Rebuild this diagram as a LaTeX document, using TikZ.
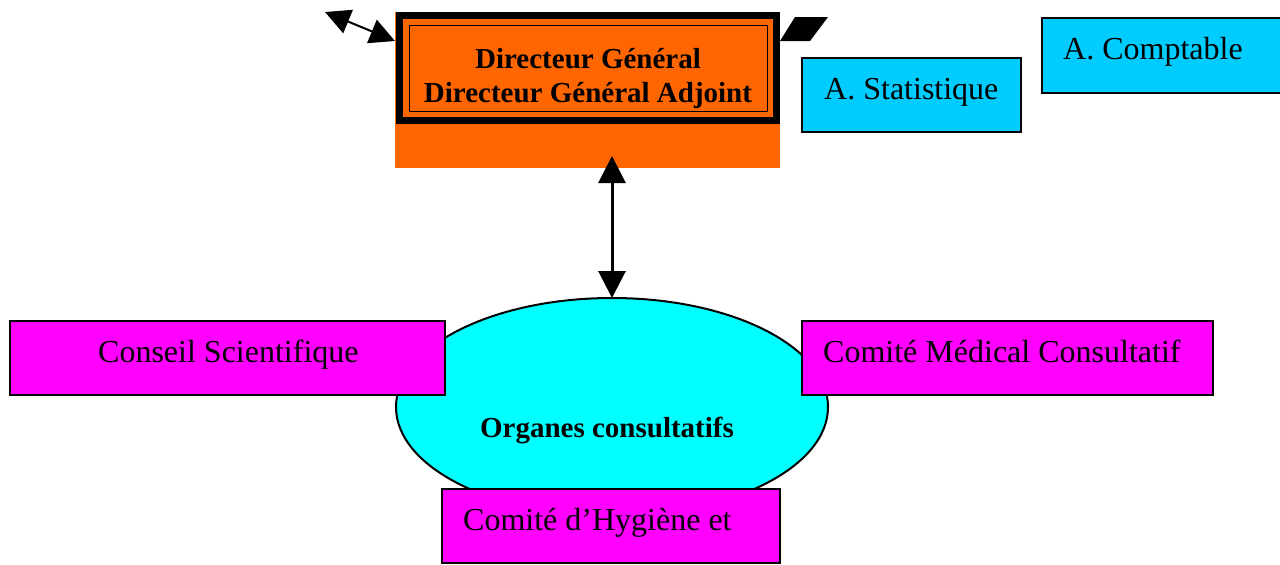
\documentclass[tikz,border=0pt]{standalone}
\usepackage{fontspec}
\setmainfont{Liberation Serif}
\usetikzlibrary{arrows.meta, positioning, shapes.geometric}
\definecolor{OrangeDG}{RGB}{255,102,0}
\definecolor{BleuCiel}{RGB}{0,204,255}
\definecolor{CyanOrg}{RGB}{0,255,255}
\definecolor{MagentaCom}{RGB}{255,0,255}
\tikzset{
  boite/.style={rectangle, draw=black, line width=2pt, inner sep=0pt, outer sep=0pt, anchor=north west},
  texte/.style={font=\fontsize{32}{36}\selectfont, inner sep=0pt, anchor=base west},
  gras/.style={font=\bfseries\fontsize{29}{34}\selectfont, inner sep=0pt, anchor=base},
  fleche/.style={{Triangle[length=27pt,width=27pt]}-{Triangle[length=27pt,width=27pt]}, line width=3pt},
  flecheG/.style={{Triangle[length=25pt,width=25pt]}-{Triangle[length=25pt,width=25pt]}, line width=2pt},
}

\begin{document}
\begin{tikzpicture}[x=1pt, y=-1pt]
    \useasboundingbox (0,0) rectangle (1280,565);

    % Direction Generale
    \node[rectangle, fill=OrangeDG, minimum width=385pt, minimum height=156pt, inner sep=0pt, outer sep=0pt, anchor=north west] (dg) at (395,12) {};
    \draw[line width=7pt] (399.5,15.5) rectangle (776.5,120.5);
    \draw[line width=1pt] (409,25) rectangle (767,111);
    \node[gras] (dgT1) at (588,68) {Directeur Général};
    \node[gras] (dgT2) at (588,102) {Directeur Général Adjoint};

    % Fleches du haut
    \coordinate (gauche) at (325,12);
    \draw[flecheG] (gauche) -- ([yshift=-29pt]dg.north west);
    \fill (780,41) -- (810,41) -- (828,17) -- (795,17) -- cycle;

    % Assistants
    \node[boite, fill=BleuCiel, minimum width=219pt, minimum height=74pt] (stat) at (802,58) {};
    \node[texte] (statT) at (824,99) {A. Statistique};
    \node[boite, fill=BleuCiel, minimum width=250pt, minimum height=75pt] (compt) at (1042,18) {};
    \node[texte] (comptT) at (1063,59) {A. Comptable};

    % Organes consultatifs
    \node[ellipse, draw=black, fill=CyanOrg, line width=2pt, minimum width=432pt, minimum height=218pt, inner sep=0pt, outer sep=0pt] (organes) at (612,407) {};
    \node[gras] (orgT) at (607,437) {Organes consultatifs};
    \coordinate (haut) at (organes.north |- dg.south);
    \draw[fleche] ([yshift=12pt]haut) -- (organes.north);

    % Comites
    \node[boite, fill=MagentaCom, minimum width=435pt, minimum height=74pt] (conseil) at (10,321) {};
    \node[texte] (conseilT) at (98,362) {Conseil Scientifique};
    \node[boite, fill=MagentaCom, minimum width=411pt, minimum height=74pt] (medical) at (802,321) {};
    \node[texte] (medicalT) at (823,362) {Comité Médical Consultatif};
    \node[boite, fill=MagentaCom, minimum width=338pt, minimum height=74pt] (hygiene) at (442,489) {};
    \node[texte] (hygieneT) at (463,530) {Comité d’Hygiène et};
\end{tikzpicture}
\end{document}
